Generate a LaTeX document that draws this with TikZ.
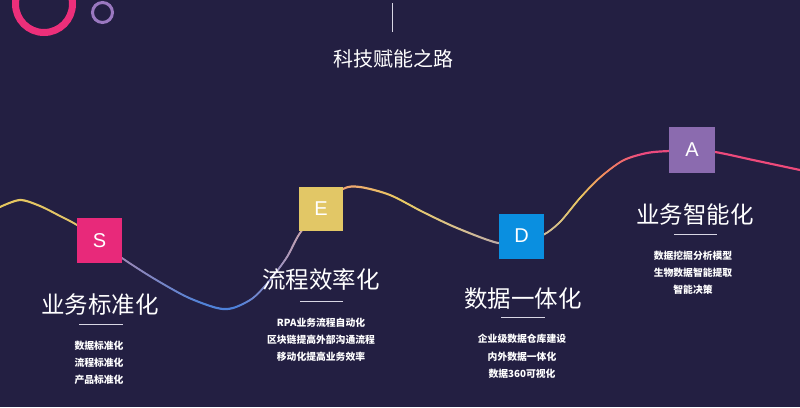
\documentclass[tikz,border=0pt]{standalone}
\usepackage{fontspec}
\setmainfont{Noto Sans CJK SC}
\newfontfamily\latinsans{Liberation Sans}
\definecolor{bgc}{RGB}{35,31,66}
\definecolor{ringpink}{HTML}{EC2F7A}
\definecolor{ringpurple}{HTML}{9A78C0}
\definecolor{cS}{HTML}{E8297A}
\definecolor{cE}{HTML}{E2C766}
\definecolor{cD}{HTML}{0A8FE0}
\definecolor{cA}{HTML}{8B6BAF}
\definecolor{ulc}{HTML}{D8D6E4}
\definecolor{g0}{HTML}{E6C75E}
\definecolor{g1}{HTML}{E2C46A}
\definecolor{g2}{HTML}{9C88B6}
\definecolor{g3}{HTML}{5282D6}
\definecolor{g4}{HTML}{4C80DA}
\definecolor{g5}{HTML}{8C8CC6}
\definecolor{g6}{HTML}{C6A2B0}
\definecolor{g7}{HTML}{EFA272}
\definecolor{g8}{HTML}{EACB62}
\definecolor{g9}{HTML}{D8C090}
\definecolor{g10}{HTML}{BBA9A6}
\definecolor{g11}{HTML}{CFBC98}
\definecolor{g12}{HTML}{EAC860}
\definecolor{g13}{HTML}{F2885E}
\definecolor{g14}{HTML}{EC4A7E}
\definecolor{g15}{HTML}{EE4A7A}
\pgfdeclarehorizontalshading{curvegrad}{100bp}{color(0bp)=(g0); color(25bp)=(g0); color(29.81bp)=(g1); color(32.63bp)=(g2); color(37.5bp)=(g3); color(39.69bp)=(g4); color(41.88bp)=(g5); color(43.75bp)=(g6); color(46.44bp)=(g7); color(50bp)=(g8); color(53.75bp)=(g9); color(56.25bp)=(g10); color(59.06bp)=(g11); color(61.25bp)=(g12); color(62.81bp)=(g13); color(65bp)=(g14); color(75bp)=(g15); color(100bp)=(g15)}
\tikzset{
  sq/.style={minimum size=45pt, inner sep=0pt, text=white, font=\latinsans\fontsize{20}{20}\selectfont},
  head/.style={inner sep=0pt, text=white, font=\fontsize{23.5}{24}\selectfont},
  item/.style={inner sep=0pt, text=white, font=\bfseries\fontsize{9.8}{10}\selectfont},
  uline/.style={draw=ulc, line width=1pt},
}
\begin{document}
\begin{tikzpicture}[x=1pt,y=-1pt]
\useasboundingbox (0,0) rectangle (800,407);
\fill[bgc] (0,0) rectangle (800,407);
% decorative rings
\draw[ringpink, line width=7pt] (44,4) circle[radius=28.5];
\draw[ringpurple, line width=3pt] (102.5,12.5) circle[radius=10];
% top line and title
\coordinate (lt) at (392,3);
\coordinate (lb) at (392,32);
\draw[ulc, line width=1pt] (lt) -- (lb);
\node[inner sep=0pt, text=white, font=\fontsize{20}{20}\selectfont] (title) at (393,59) {科技赋能之路};
% gradient curve: vertical band
\begin{scope}
\clip plot[smooth] coordinates {(0,205.9) (20,198.9) (40,204.9) (60,214.9) (77,223.9) (100,239.9) (122,256.9) (153,276.9) (187,295.9) (217,306.9) (233,306.9) (253,296.9) (270,278.9) (287,255.9) (300,231.9) (321,207.9) (343,187.9) (360,185.9) (390,193.9) (423,210.9) (457,226.9) (498,241.9) (521,239.9) (543,233.9) (560,220.9) (580,196.9) (600,176.4) (623,159.4) (647,151.9) (670,149.9) (692,149.9) (715,150.9) (753,158.9) (800,168.9)}
 -- plot[smooth] coordinates {(800,171.1) (753,161.1) (715,153.1) (692,152.1) (670,152.1) (647,154.1) (623,161.6) (600,178.6) (580,199.1) (560,223.1) (543,236.1) (521,242.1) (498,244.1) (457,229.1) (423,213.1) (390,196.1) (360,188.1) (343,190.1) (321,210.1) (300,234.1) (287,258.1) (270,281.1) (253,299.1) (233,309.1) (217,309.1) (187,298.1) (153,279.1) (122,259.1) (100,242.1) (77,226.1) (60,217.1) (40,207.1) (20,201.1) (0,208.1)} -- cycle;
\shade[shading=curvegrad] (0,0) rectangle (800,407);
\end{scope}
% gradient curve: horizontal band
\begin{scope}
\clip plot[smooth] coordinates {(-1.1,207) (18.9,200) (38.9,206) (58.9,216) (75.9,225) (98.9,241) (120.9,258) (151.9,278) (185.9,297) (215.9,308) (231.9,308) (251.9,298) (268.9,280) (285.9,257) (298.9,233) (319.9,209) (341.9,189) (358.9,187) (388.9,195) (421.9,212) (455.9,228) (496.9,243) (519.9,241) (541.9,235) (558.9,222) (578.9,198) (598.9,177.5) (621.9,160.5) (645.9,153) (668.9,151) (690.9,151) (713.9,152) (751.9,160) (798.9,170)}
 -- plot[smooth] coordinates {(801.1,170) (754.1,160) (716.1,152) (693.1,151) (671.1,151) (648.1,153) (624.1,160.5) (601.1,177.5) (581.1,198) (561.1,222) (544.1,235) (522.1,241) (499.1,243) (458.1,228) (424.1,212) (391.1,195) (361.1,187) (344.1,189) (322.1,209) (301.1,233) (288.1,257) (271.1,280) (254.1,298) (234.1,308) (218.1,308) (188.1,297) (154.1,278) (123.1,258) (101.1,241) (78.1,225) (61.1,216) (41.1,206) (21.1,200) (1.1,207)} -- cycle;
\shade[shading=curvegrad] (0,0) rectangle (800,407);
\end{scope}
% boxes
\node[sq, fill=cS] (S) at (99.5,240.5) {S};
\node[sq, fill=cE, minimum size=44pt] (E) at (321,209) {E};
\node[sq, fill=cD] (D) at (521.5,236) {D};
\node[sq, fill=cA, minimum size=46pt] (A) at (692,150) {A};
% headings
\node[head] (hS) at (100,305) {业务标准化};
\node[head] (hE) at (321,280) {流程效率化};
\node[head] (hD) at (523,299) {数据一体化};
\node[head] (hA) at (695,215) {业务智能化};
% underlines
\draw[uline] (79,324) -- (123,324);
\draw[uline] (300,301) -- (343,301);
\draw[uline] (501,317) -- (545,317);
\draw[uline] (674,234) -- (717,234);
% items
\node[item] (s1) at (99,346) {数据标准化};
\node[item] (s2) at (99,363) {流程标准化};
\node[item] (s3) at (99,380) {产品标准化};
\node[item] (e1) at (321,323) {RPA业务流程自动化};
\node[item] (e2) at (321,340) {区块链提高外部沟通流程};
\node[item] (e3) at (321,357) {移动化提高业务效率};
\node[item] (d1) at (522,339) {企业级数据仓库建设};
\node[item] (d2) at (522,357) {内外数据一体化};
\node[item] (d3) at (522,374) {数据360可视化};
\node[item] (a1) at (693,256) {数据挖掘分析模型};
\node[item] (a2) at (693,273) {生物数据智能提取};
\node[item] (a3) at (693,290) {智能决策};
\end{tikzpicture}
\end{document}
